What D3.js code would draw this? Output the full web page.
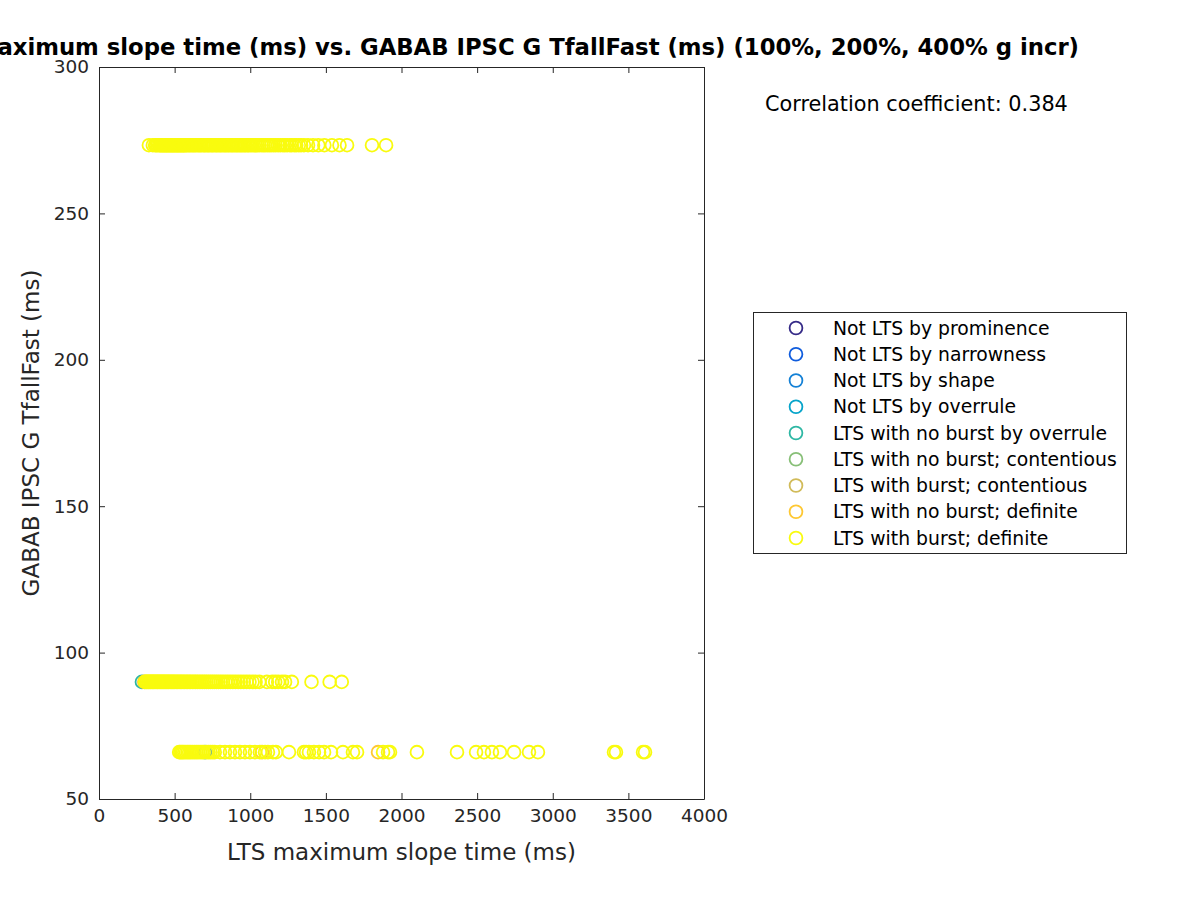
<!DOCTYPE html>
<html>
<head>
<meta charset="utf-8">
<script src="https://cdn.jsdelivr.net/npm/d3@7/dist/d3.min.js"></script>
<style>
  html, body { margin: 0; padding: 0; background: #fff; }
  svg { display: block; font-family: "DejaVu Sans", sans-serif; }
</style>
</head>
<body>
<svg id="chart" width="1200" height="900"></svg>
<script>
// ---- Data ----
const categories = [
  "Not LTS by prominence",
  "Not LTS by narrowness",
  "Not LTS by shape",
  "Not LTS by overrule",
  "LTS with no burst by overrule",
  "LTS with no burst; contentious",
  "LTS with burst; contentious",
  "LTS with no burst; definite",
  "LTS with burst; definite"
];
const categoryColors = ["#352a87", "#0f5cdd", "#1481d6", "#06a4ca", "#2eb7a4", "#87bf77", "#d1bb59", "#fec832", "#f9fb0e"];

const xTicks = [0, 500, 1000, 1500, 2000, 2500, 3000, 3500, 4000];
const yTicks = [50, 100, 150, 200, 250, 300];

// GABAB IPSC G TfallFast levels (ms)
const tfallTop = 273.3;
const tfallMid = 90;
const tfallBot = 66;

// LTS maximum slope time (ms) for each level, by category
const topBurstDefinite = [330, 356, 371, 379, 388, 397, 404, 409, 416, 421, 427, 433, 438, 444, 449, 455, 461, 466, 472,
  477, 483, 488, 494, 499, 505, 511, 516, 522, 527, 533, 539, 544, 550, 556, 561, 567, 574, 581, 590, 598, 607, 616, 624,
  633, 641, 652, 661, 669, 678, 689, 697, 706, 716, 724, 733, 743, 751, 760, 771, 779, 788, 798, 806, 815, 826, 834, 843,
  853, 861, 872, 880, 889, 899, 908, 917, 926, 935, 944, 953, 963, 971, 982, 990, 1001, 1012, 1024, 1037, 1049, 1061,
  1076, 1088, 1099, 1113, 1126, 1139, 1154, 1168, 1184, 1199, 1216, 1229, 1244, 1262, 1274, 1291, 1304, 1321, 1336,
  1355, 1382, 1415, 1450, 1490, 1540, 1590, 1640, 1805, 1898];

const midNoBurstOverrule = [284];
const midNoBurstDefinite = [300];
const midBurstDefinite = [305, 312, 318, 325, 331, 338, 344, 351, 357, 363, 370, 377, 384, 390, 397, 404, 411, 418, 425,
  432, 440, 447, 455, 462, 470, 478, 486, 494, 502, 511, 520, 529, 538, 547, 556, 566, 576, 586, 596, 606, 617, 628, 639,
  650, 662, 674, 686, 698, 710, 723, 736, 749, 762, 776, 790, 805, 820, 836, 852, 868, 885, 902, 920, 938, 957, 976, 995,
  1015, 1035, 1060, 1110, 1145, 1165, 1185, 1210, 1230, 1275, 1405, 1525, 1605];

const botNoBurstContentious = [701];
const botNoBurstDefinite = [1078, 1845];
const botBurstDefinite = [530, 538, 547, 555, 564, 575, 586, 596, 607, 619, 631, 643, 655, 668, 681, 692, 712, 725, 738,
  752, 765, 800, 833, 866, 899, 932, 965, 998, 1031, 1064, 1098, 1117, 1150, 1170, 1256, 1355, 1369, 1388, 1421, 1455,
  1488, 1534, 1613, 1679, 1706, 1878, 1911, 1924, 2102, 2367, 2493, 2545, 2598, 2651, 2744, 2843, 2902, 3405, 3418,
  3597, 3610];

const correlationText = "Correlation coefficient: 0.384";
const titleText = "LTS maximum slope time (ms) vs. GABAB IPSC G TfallFast (ms) (100%, 200%, 400% g incr)";
const xLabel = "LTS maximum slope time (ms)";
const yLabel = "GABAB IPSC G TfallFast (ms)";

// Build point table (category index, x, y)
const points = [];
function addPts(arr, yv, cat) { arr.forEach(xv => points.push({ x: xv, y: yv, c: cat })); }
addPts(midNoBurstOverrule, tfallMid, 4);
addPts(botNoBurstContentious, tfallBot, 5);
addPts(midNoBurstDefinite, tfallMid, 7);
addPts(botNoBurstDefinite, tfallBot, 7);
addPts(topBurstDefinite, tfallTop, 8);
addPts(midBurstDefinite, tfallMid, 8);
addPts(botBurstDefinite, tfallBot, 8);
points.sort((a, b) => a.c - b.c);

// ---- Layout ----
const svg = d3.select("#chart");
const pL = 99, pR = 704, pT = 67, pB = 799;
const x = d3.scaleLinear().domain([0, 4000]).range([pL, pR]);
const y = d3.scaleLinear().domain([50, 300]).range([pB, pT]);
const axisColor = "#262626";
const tickLen = 6;
const markR = 6.4, markW = 1.8;

// Points
svg.append("g").selectAll("circle").data(points).join("circle")
  .attr("cx", d => x(d.x)).attr("cy", d => y(d.y)).attr("r", markR)
  .attr("fill", "none").attr("stroke", d => categoryColors[d.c]).attr("stroke-width", markW);

// Axes (ticks inside)
const gx = svg.append("g").attr("transform", `translate(0,${pB})`)
  .call(d3.axisBottom(x).tickValues(xTicks).tickSizeInner(-tickLen).tickSizeOuter(0).tickPadding(10).tickFormat(d3.format("d")));
const gxTop = svg.append("g").attr("transform", `translate(0,${pT})`)
  .call(d3.axisTop(x).tickValues(xTicks).tickSizeInner(-tickLen).tickSizeOuter(0).tickFormat(""));
const gy = svg.append("g").attr("transform", `translate(${pL},0)`)
  .call(d3.axisLeft(y).tickValues(yTicks).tickSizeInner(-tickLen).tickSizeOuter(0).tickPadding(10).tickFormat(d3.format("d")));
const gyR = svg.append("g").attr("transform", `translate(${pR},0)`)
  .call(d3.axisRight(y).tickValues(yTicks).tickSizeInner(-tickLen).tickSizeOuter(0).tickFormat(""));
[gx, gxTop, gy, gyR].forEach(g => {
  g.select(".domain").attr("stroke", axisColor).attr("stroke-width", 1);
  g.selectAll(".tick line").attr("stroke", axisColor);
  g.selectAll("text").attr("fill", axisColor).attr("font-size", 18.5).attr("font-family", "DejaVu Sans, sans-serif");
});

// Axis labels
svg.append("text").attr("x", (pL + pR) / 2).attr("y", 860).attr("text-anchor", "middle")
  .attr("font-size", 23).attr("fill", axisColor).text(xLabel);
svg.append("text").attr("transform", `translate(39,${(pT + pB) / 2}) rotate(-90)`).attr("text-anchor", "middle")
  .attr("font-size", 23).attr("fill", axisColor).text(yLabel);

// Title
svg.append("text").attr("x", 1079).attr("y", 55).attr("text-anchor", "end")
  .attr("font-size", 22.75).attr("font-weight", "bold").attr("fill", "#000").text(titleText);

// Correlation text
svg.append("text").attr("x", 765).attr("y", 111).attr("font-size", 20.8).attr("fill", "#000").text(correlationText);

// Legend
const lg = svg.append("g");
lg.append("rect").attr("x", 753.5).attr("y", 312.5).attr("width", 373).attr("height", 241)
  .attr("fill", "#fff").attr("stroke", axisColor).attr("stroke-width", 1);
const rowY = d3.scaleLinear().domain([0, categories.length - 1]).range([328, 538]);
categories.forEach((name, i) => {
  lg.append("circle").attr("cx", 796).attr("cy", rowY(i)).attr("r", markR)
    .attr("fill", "none").attr("stroke", categoryColors[i]).attr("stroke-width", markW);
  lg.append("text").attr("x", 833).attr("y", rowY(i)).attr("dy", "0.35em")
    .attr("font-size", 18.8).attr("fill", "#000").text(name);
});
</script>
</body>
</html>
